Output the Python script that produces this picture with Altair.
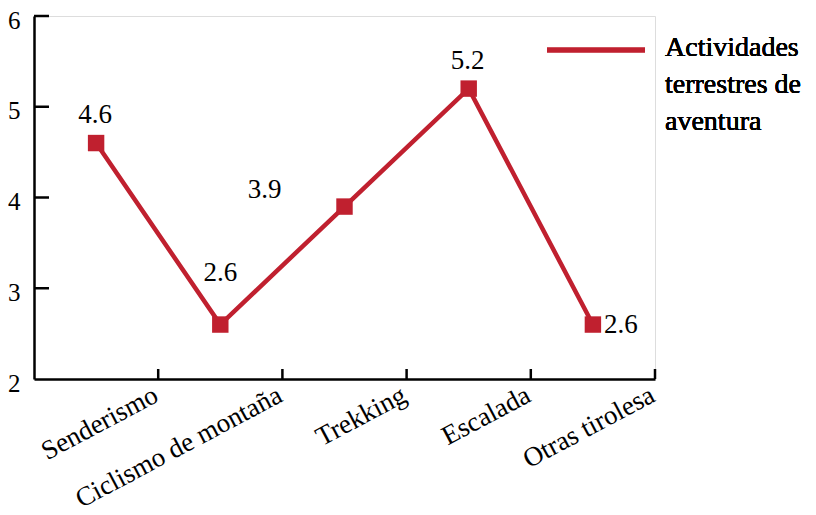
import altair as alt
import pandas as pd

categories = ["Senderismo", "Ciclismo de montaña", "Trekking", "Escalada", "Otras tirolesa"]
values = [4.6, 2.6, 3.9, 5.2, 2.6]
legend_lines = ["Actividades", "terrestres de", "aventura"]
y_ticks = [2, 3, 4, 5, 6]

RED = "#C0202F"
FONT = "'Liberation Serif', 'DejaVu Serif', serif"
W, H = 621, 363

df = pd.DataFrame({"cat": categories, "val": values})
tick_df = pd.DataFrame({"t": y_ticks[1:]})

xsc = alt.Scale(type="band", domain=categories, paddingInner=0, paddingOuter=0)
ysc = alt.Scale(domain=[2, 6], nice=False, zero=False)

base = alt.Chart(df)

line = base.mark_line(color=RED, strokeWidth=4.5).encode(
    x=alt.X("cat:N", scale=xsc, sort=categories, title=None,
            axis=alt.Axis(bandPosition=1, ticks=False, labelAngle=-28, labelAlign="right",
                          labelBaseline="middle", labelPadding=14, labelOffset=60,
                          labelFont=FONT, labelFontSize=27,
                          labelColor="black", domainColor="black", domainWidth=2.5, grid=False,
                          labelLimit=400)),
    y=alt.Y("val:Q", scale=ysc, title=None,
            axis=alt.Axis(values=y_ticks, format="d", ticks=False, labelPadding=14, labelFont=FONT,
                          labelFontSize=25, labelOffset=4, labelColor="black", domainColor="black",
                          domainWidth=2.5, grid=False)),
)

points = base.mark_square(color=RED, size=270, opacity=1).encode(
    x=alt.X("cat:N", scale=xsc, sort=categories),
    y=alt.Y("val:Q", scale=ysc),
)

def labels(cats, **kw):
    return base.transform_filter(
        alt.FieldOneOfPredicate(field="cat", oneOf=cats)
    ).mark_text(font=FONT, fontSize=27, color="black", **kw).encode(
        x=alt.X("cat:N", scale=xsc, sort=categories),
        y=alt.Y("val:Q", scale=ysc),
        text=alt.Text("val:Q", format=".1f"),
    )

lab_above = labels(["Senderismo", "Escalada"], dy=-28, dx=-1)
lab_high = labels(["Ciclismo de montaña"], dy=-52)
lab_left = labels(["Trekking"], dx=-80, dy=-17)
lab_right = labels(["Otras tirolesa"], align="left", dx=11, dy=0)

xticks = base.mark_rule(color="black", strokeWidth=2.5).encode(
    x=alt.X("cat:N", scale=xsc, sort=categories, bandPosition=1),
    y=alt.value(H),
    y2=alt.value(H - 10),
)

yticks = alt.Chart(tick_df).mark_rule(color="black", strokeWidth=2.5).encode(
    x=alt.value(0),
    x2=alt.value(15),
    y=alt.Y("t:Q", scale=ysc),
)

leg_line = base.mark_rule(color=RED, strokeWidth=4.5).encode(
    x=alt.value(513), x2=alt.value(611), y=alt.value(34),
)
leg_text = base.mark_text(font=FONT, fontSize=28, color="black", align="left",
                          baseline="top", lineHeight=37).encode(
    x=alt.value(631), y=alt.value(18), text=alt.value(legend_lines),
)

chart = alt.layer(
    line, points, lab_above, lab_high, lab_left, lab_right, xticks, yticks, leg_line, leg_text
).properties(
    width=W, height=H,
    autosize=alt.AutoSizeParams(type="none"),
    padding={"left": 26, "top": 8, "right": 150, "bottom": 128},
).configure_view(strokeWidth=0, stroke="transparent").configure(background="white")

chart.save("out.html", embed_options={"renderer": "svg", "actions": False})
